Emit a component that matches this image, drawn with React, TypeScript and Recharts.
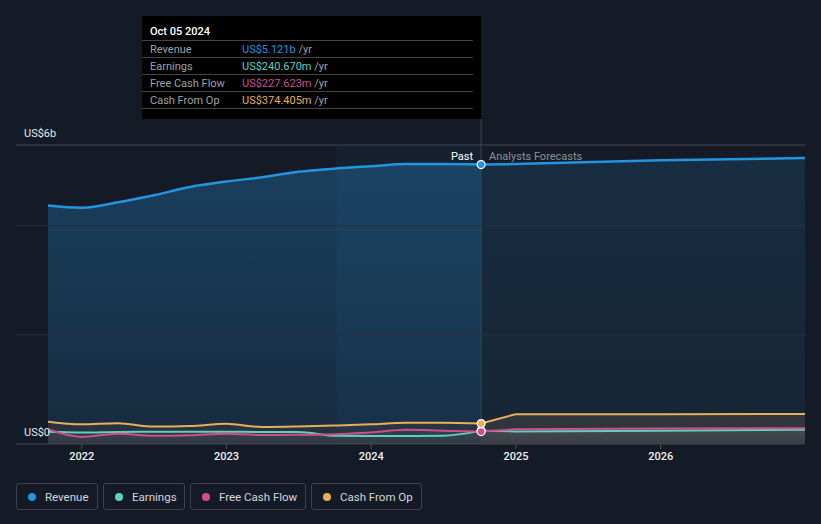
import React from "react";
import {
  ComposedChart,
  Area,
  Line,
  XAxis,
  YAxis,
  ReferenceLine,
  ReferenceArea,
  ReferenceDot,
} from "recharts";

// ---- data (values in US$ billions) ----
const pastDates = [
  "2021-10-08", "2021-12-31", "2022-04-02", "2022-07-02", "2022-10-01",
  "2022-12-31", "2023-04-01", "2023-07-01", "2023-10-05", "2023-12-30",
  "2024-03-30", "2024-06-29", "2024-10-05",
];
const pastRevenue = [4.37, 4.33, 4.43, 4.56, 4.71, 4.81, 4.89, 4.99, 5.05, 5.09, 5.13, 5.13, 5.121];
const pastEarnings = [0.225, 0.21, 0.22, 0.225, 0.225, 0.225, 0.22, 0.22, 0.15, 0.145, 0.145, 0.15, 0.24067];
const pastFcf = [0.27, 0.13, 0.19, 0.15, 0.16, 0.19, 0.165, 0.17, 0.18, 0.21, 0.26, 0.245, 0.227623];
const pastCfo = [0.41, 0.36, 0.38, 0.32, 0.33, 0.37, 0.31, 0.32, 0.34, 0.36, 0.39, 0.39, 0.374405];

const forecastDates = ["2024-10-05", "2024-12-31", "2025-12-31", "2026-12-31"];
const forecastRevenue = [5.121, 5.13, 5.2, 5.24];
const forecastEarnings = [0.24067, 0.23, 0.245, 0.26];
const forecastFcf = [0.227623, 0.27, 0.285, 0.29];
const forecastCfo = [0.374405, 0.545, 0.545, 0.55];

const highlightStart = "2023-10-05";
const tooltipDate = "Oct 05 2024";

const xTicks = [2022, 2023, 2024, 2025, 2026];
const yTicks = [0, 2, 4, 5.48];
const yTickLabels = ["US$0", "", "", "US$6b"];

const seriesNames = ["Revenue", "Earnings", "Free Cash Flow", "Cash From Op"];
const seriesColors = ["#2394df", "#5fd0bd", "#d14d8c", "#e8ae5a"];

// ---- helpers ----
const toYear = (d: string) => {
  const [y, m, day] = d.split("-").map(Number);
  const start = Date.UTC(y, 0, 1);
  const end = Date.UTC(y + 1, 0, 1);
  return y + (Date.UTC(y, m - 1, day) - start) / (end - start);
};

const pastX = pastDates.map(toYear);
const forecastX = forecastDates.map(toYear);
const pastEnd = pastX[pastX.length - 1];

type Row = { [k: string]: number | null };
const rows: Row[] = pastX.map((x, i) => ({
  x,
  revP: pastRevenue[i],
  earnP: pastEarnings[i],
  fcfP: pastFcf[i],
  cfoP: pastCfo[i],
  revF: null,
  earnF: null,
  fcfF: null,
  cfoF: null,
}));
forecastX.forEach((x, i) => {
  if (i === 0) {
    const r = rows[rows.length - 1];
    r.revF = forecastRevenue[0];
    r.earnF = forecastEarnings[0];
    r.fcfF = forecastFcf[0];
    r.cfoF = forecastCfo[0];
  } else {
    rows.push({
      x,
      revP: null,
      earnP: null,
      fcfP: null,
      cfoP: null,
      revF: forecastRevenue[i],
      earnF: forecastEarnings[i],
      fcfF: forecastFcf[i],
      cfoF: forecastCfo[i],
    });
  }
});

const lastVals = [
  pastRevenue[pastRevenue.length - 1],
  pastEarnings[pastEarnings.length - 1],
  pastFcf[pastFcf.length - 1],
  pastCfo[pastCfo.length - 1],
];
const fmt = (v: number) =>
  v >= 1 ? `US$${v.toFixed(3)}b` : `US$${(v * 1000).toFixed(3)}m`;

const FONT = "Roboto, 'Noto Sans', sans-serif";

const YTick = (props: any) => {
  const { y, index } = props;
  const label = yTickLabels[index] ?? "";
  const isEdge = index === 0 || index === yTicks.length - 1;
  return (
    <g>
      <line
        x1={16}
        x2={805}
        y1={y}
        y2={y}
        stroke={isEdge ? "#43474f" : "#2a313c"}
        strokeWidth={1}
      />
      {label ? (
        <text x={24} y={y - 8} fill="#e6e6e6" fontSize={11} fontFamily={FONT}>
          {label}
        </text>
      ) : null}
    </g>
  );
};

const DividerShape = (props: any) => {
  const { x1, y1, y2 } = props;
  const top = Math.min(y1, y2);
  const bottom = Math.max(y1, y2);
  return (
    <g>
      <line x1={x1} x2={x1} y1={top - 26} y2={bottom} stroke="#3a4757" strokeWidth={1} />
      <text x={x1 - 8} y={top + 15} textAnchor="end" fill="#ffffff" fontSize={11} fontFamily={FONT}>
        Past
      </text>
      <text x={x1 + 8} y={top + 15} textAnchor="start" fill="#8b9099" fontSize={11} fontFamily={FONT}>
        Analysts Forecasts
      </text>
    </g>
  );
};

export default function App() {
  return (
    <div
      style={{
        position: "fixed",
        left: 0,
        top: 0,
        width: 821,
        height: 524,
        background: "#151b26",
        fontFamily: FONT,
        overflow: "hidden",
      }}
    >
      <ComposedChart
        width={821}
        height={524}
        data={rows}
        margin={{ top: 145, right: 16, bottom: 50, left: 16 }}
      >
        <defs>
          <linearGradient id="revPast" x1="0" y1="0" x2="0" y2="1">
            <stop offset="0%" stopColor="#2394df" stopOpacity={0.3} />
            <stop offset="100%" stopColor="#2394df" stopOpacity={0.13} />
          </linearGradient>
          <linearGradient id="revFc" x1="0" y1="0" x2="0" y2="1">
            <stop offset="0%" stopColor="#2394df" stopOpacity={0.15} />
            <stop offset="100%" stopColor="#2394df" stopOpacity={0.08} />
          </linearGradient>
          <linearGradient id="grayA" x1="0" y1="0" x2="0" y2="1">
            <stop offset="0%" stopColor="#3c3c3e" stopOpacity={0.7} />
            <stop offset="100%" stopColor="#3c3c3e" stopOpacity={0.7} />
          </linearGradient>
          <linearGradient id="grayB" x1="0" y1="0" x2="0" y2="1">
            <stop offset="0%" stopColor="#5c5f68" stopOpacity={0.35} />
            <stop offset="100%" stopColor="#5c5f68" stopOpacity={0.15} />
          </linearGradient>
        </defs>
        <XAxis
          dataKey="x"
          type="number"
          domain={[pastX[0], forecastX[forecastX.length - 1]]}
          ticks={xTicks}
          tickFormatter={(v: number) => String(Math.round(v))}
          axisLine={false}
          tickLine={{ stroke: "#4a4f58" }}
          tickSize={5}
          tickMargin={3}
          tick={{ fill: "#f0f0f0", fontSize: 11, fontFamily: FONT, fontWeight: 500 }}
          allowDataOverflow
        />
        <YAxis
          type="number"
          domain={[0, yTicks[yTicks.length - 1]]}
          ticks={yTicks}
          interval={0}
          width={32}
          axisLine={false}
          tickLine={false}
          tick={<YTick />}
          allowDataOverflow
        />
        <Area
          dataKey="revP"
          type="monotone"
          stroke="none"
          fill="url(#revPast)"
          fillOpacity={1}
          isAnimationActive={false}
          connectNulls={false}
        />
        <Area
          dataKey="revF"
          type="linear"
          stroke="none"
          fill="url(#revFc)"
          fillOpacity={1}
          isAnimationActive={false}
          connectNulls={false}
        />
        <ReferenceArea
          x1={toYear(highlightStart)}
          x2={pastEnd}
          y1={0}
          y2={yTicks[yTicks.length - 1]}
          fill="#3aa0e8"
          fillOpacity={0.05}
          stroke="none"
        />
        <Area dataKey="cfoP" type="monotone" stroke="none" fill="url(#grayA)" fillOpacity={0.6} isAnimationActive={false} />
        <Area dataKey="cfoF" type="linear" stroke="none" fill="url(#grayA)" fillOpacity={1} isAnimationActive={false} />
        <Area dataKey="fcfP" type="monotone" stroke="none" fill="url(#grayB)" fillOpacity={0.7} isAnimationActive={false} />
        <Area dataKey="fcfF" type="linear" stroke="none" fill="url(#grayB)" fillOpacity={1} isAnimationActive={false} />
        <Area dataKey="earnP" type="monotone" stroke="none" fill="url(#grayB)" fillOpacity={0.4} isAnimationActive={false} />
        <Area dataKey="earnF" type="linear" stroke="none" fill="url(#grayB)" fillOpacity={0.5} isAnimationActive={false} />

        <ReferenceLine x={pastEnd} shape={<DividerShape />} />

        <Line dataKey="cfoP" type="monotone" stroke={seriesColors[3]} strokeWidth={2} dot={false} isAnimationActive={false} />
        <Line dataKey="cfoF" type="linear" stroke={seriesColors[3]} strokeWidth={2} dot={false} isAnimationActive={false} />
        <Line dataKey="earnP" type="monotone" stroke={seriesColors[1]} strokeWidth={2} dot={false} isAnimationActive={false} />
        <Line dataKey="earnF" type="linear" stroke={seriesColors[1]} strokeWidth={2} dot={false} isAnimationActive={false} />
        <Line dataKey="fcfP" type="monotone" stroke={seriesColors[2]} strokeWidth={2} dot={false} isAnimationActive={false} />
        <Line dataKey="fcfF" type="linear" stroke={seriesColors[2]} strokeWidth={2} dot={false} isAnimationActive={false} />
        <Line dataKey="revP" type="monotone" stroke={seriesColors[0]} strokeWidth={2.5} dot={false} isAnimationActive={false} />
        <Line dataKey="revF" type="linear" stroke={seriesColors[0]} strokeWidth={2.5} dot={false} isAnimationActive={false} />

        {lastVals.map((v, i) => (
          <ReferenceDot
            key={i}
            x={pastEnd}
            y={v}
            r={4}
            fill={seriesColors[i]}
            stroke="#ffffff"
            strokeWidth={1.2}
          />
        ))}
      </ComposedChart>

      {/* static tooltip */}
      <div
        style={{
          position: "absolute",
          left: 142,
          top: 16,
          width: 339,
          height: 103,
          background: "#000000",
          boxSizing: "border-box",
          paddingLeft: 0,
        }}
      >
        <div style={{ width: 331 }}>
          <div
            style={{
              height: 25,
              boxSizing: "border-box",
              paddingTop: 9,
              paddingLeft: 8,
              fontSize: 11,
              lineHeight: "13px",
              color: "#ffffff",
              fontWeight: 500,
              borderBottom: "1px solid #444",
            }}
          >
            {tooltipDate}
          </div>
          {seriesNames.map((n, i) => (
            <div
              key={n}
              style={{
                height: 17,
                boxSizing: "border-box",
                borderBottom: "1px solid #444",
                display: "flex",
                fontSize: 11,
                lineHeight: "17px",
                paddingLeft: 8,
              }}
            >
              <span style={{ width: 92, color: "#9ea2a8" }}>{n}</span>
              <span style={{ color: seriesColors[i] }}>{fmt(lastVals[i])}</span>
              <span style={{ color: "#9ea2a8", whiteSpace: "pre" }}> /yr</span>
            </div>
          ))}
        </div>
      </div>

      {/* legend */}
      <div
        style={{
          position: "absolute",
          left: 16,
          top: 483,
          display: "flex",
          gap: 5,
        }}
      >
        {seriesNames.map((n, i) => (
          <div
            key={n}
            style={{
              width: [82, 82, 116, 111][i],
              height: 27,
              boxSizing: "border-box",
              border: "1px solid #3c414b",
              borderRadius: 3,
              display: "flex",
              alignItems: "center",
              paddingLeft: 11,
              fontSize: 11.5,
              color: "#d4d6da",
            }}
          >
            <span
              style={{
                width: 8,
                height: 8,
                borderRadius: 4,
                background: seriesColors[i],
                marginRight: 9,
                flex: "none",
              }}
            />
            {n}
          </div>
        ))}
      </div>
    </div>
  );
}
